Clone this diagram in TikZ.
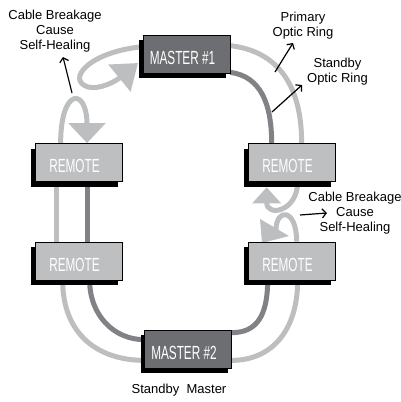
\documentclass[tikz,border=0pt]{standalone}
\usepackage{fontspec}
\setmainfont{Liberation Sans}
\newfontfamily\boxfont[FakeStretch=0.62]{Liberation Sans}
\usepackage{tikz}
\usetikzlibrary{arrows.meta,positioning,calc,backgrounds}
\definecolor{ringlight}{RGB}{188,190,192}
\definecolor{ringdark}{RGB}{128,130,133}
\definecolor{masterfill}{RGB}{109,110,113}
\definecolor{remotefill}{RGB}{190,191,193}

\begin{document}
\begin{tikzpicture}[x=1pt,y=-1pt,
  unit/.style={draw=black,line width=0.7pt,minimum width=87pt,minimum height=38pt,inner sep=0pt,
    text=white,font=\boxfont\fontsize{19}{19}\selectfont,text height=20.5pt,text depth=0pt,
    execute at end node=\hspace*{8pt}},
  master/.style={unit,fill=masterfill},
  remote/.style={unit,fill=remotefill},
  unitshadow/.style={fill=black,draw=none,minimum width=87pt,minimum height=38pt,inner sep=0pt},
  primary/.style={draw=ringlight,line width=5pt},
  standby/.style={draw=ringdark,line width=5pt},
  note/.style={align=center,anchor=base,font=\fontsize{13}{15}\selectfont,inner sep=0pt},
  pointer/.style={line width=1.2pt,-{Straight Barb[length=4pt,width=9pt]}}]
  \useasboundingbox (0,0) rectangle (401,402); % 図全体の大きさ
  \foreach \nm/\cx/\cy in {m1/186.5/54,r1/78.5/162.5,r2/291.5/162.5,r3/78.5/261,r4/291.5/261,m2/188/349}
    \node[unitshadow] (\nm s) at (\cx-4,\cy+5) {}; % 箱の影
  \node[master] (m1) at (186.5,54) {MASTER \#1}; % 上のマスター
  \node[remote] (r1) at (78.5,162.5) {REMOTE}; % 左上のリモート
  \node[remote] (r2) at (291.5,162.5) {REMOTE}; % 右上のリモート
  \node[remote] (r3) at (78.5,261) {REMOTE}; % 左下のリモート
  \node[remote] (r4) at (291.5,261) {REMOTE}; % 右下のリモート
  \node[master] (m2) at (188,349) {MASTER \#2}; % 下のマスター（待機）
  \begin{scope}[on background layer]
    \draw[primary] ($(m1.north east)+(0,11)$) .. controls +(50,6) and +(0,-55) .. ($(r2.north west)+(54,0)$); % 主リング（右上）
    \draw[standby] ($(m1.south east)+(0,-1)$) .. controls +(30,4) and +(0,-40) .. ($(r2.north west)+(24,0)$); % 待機リング（右上）
    \draw[primary] ($(r1.south west)+(22,0)$) -- ($(r3.north west)+(22,0)$); % 主リング（左）
    \draw[standby] ($(r1.south west)+(53,0)$) -- ($(r3.north west)+(53,0)$); % 待機リング（左）
    \draw[primary] ($(r3.south west)+(28,0)$) .. controls +(0,55) and +(-45,0) .. ($(m2.south west)+(0,-8)$); % 主リング（左下）
    \draw[standby] ($(r3.south west)+(55,0)$) .. controls +(0,35) and +(-30,0) .. ($(m2.north west)+(0,10)$); % 待機リング（左下）
    \draw[standby] ($(r4.south west)+(20,0)$) .. controls +(0,35) and +(25,0) .. ($(m2.north east)+(0,3)$); % 待機リング（右下）
    \draw[primary] ($(r4.south west)+(50,0)$) .. controls +(0,50) and +(40,0) .. ($(m2.south east)+(0,-8)$); % 主リング（右下）
    \draw[primary,-{Triangle[width=34pt,length=24pt]}] ($(m1.north west)+(0,12)$) .. controls (88,52) and (66,80) .. (88,87) .. controls (100,90) and (116,81) .. (138,63); % 自己修復の折り返し（マスター側）
    \draw[primary,-{Triangle[width=36pt,length=20pt]}] ($(r1.north west)+(26,0)$) .. controls +(0,-56) and +(0,-56) .. ($(r1.north)+(8.5,0)$); % 自己修復の折り返し（左上リモート側）
    \draw[primary,-{Triangle[width=28pt,length=16pt]}] ($(r2.south west)+(50,0)$) .. controls +(0,30) and +(0,30) .. ($(r2.south west)+(19,5.5)$); % 自己修復の折り返し（右上リモート側）
    \draw[primary] ($(r4.north west)+(49,0)$) .. controls +(0,-34) and +(0,-22) .. (276,230); % 自己修復の折り返し（右下リモート側）
    \fill[ringlight] (260,219) -- (262,243) -- (289,236) -- cycle; % 右下の三角矢印
  \end{scope}
  \node[note] (tl) at (55,49) {Cable Breakage\\Cause\\Self-Healing}; % 左上の説明
  \node[note] (pri) at (303,36) {Primary\\Optic Ring}; % 主リングの説明
  \node[note] (stb) at (337.5,82) {Standby\\Optic Ring}; % 待機リングの説明
  \node[note] (rt) at (355,231.5) {Cable Breakage\\Cause\\Self-Healing}; % 右の説明
  \node[note] (sm) at (179,393) {Standby~~Master}; % 下の説明
  \coordinate (tlfrom) at (72,93); \coordinate (tlto) at (63,57);
  \coordinate (prifrom) at (275,72); \coordinate (prito) at (293,43);
  \coordinate (stbfrom) at (272,112); \coordinate (stbto) at (302,85);
  \coordinate (rtfrom) at (300,215); \coordinate (rtto) at (327,213);
  \draw[pointer] (tlfrom) -- (tlto); % 左上の矢印
  \draw[pointer] (prifrom) -- (prito); % 主リングの矢印
  \draw[pointer] (stbfrom) -- (stbto); % 待機リングの矢印
  \draw[pointer] (rtfrom) -- (rtto); % 右の矢印
\end{tikzpicture}
\end{document}
